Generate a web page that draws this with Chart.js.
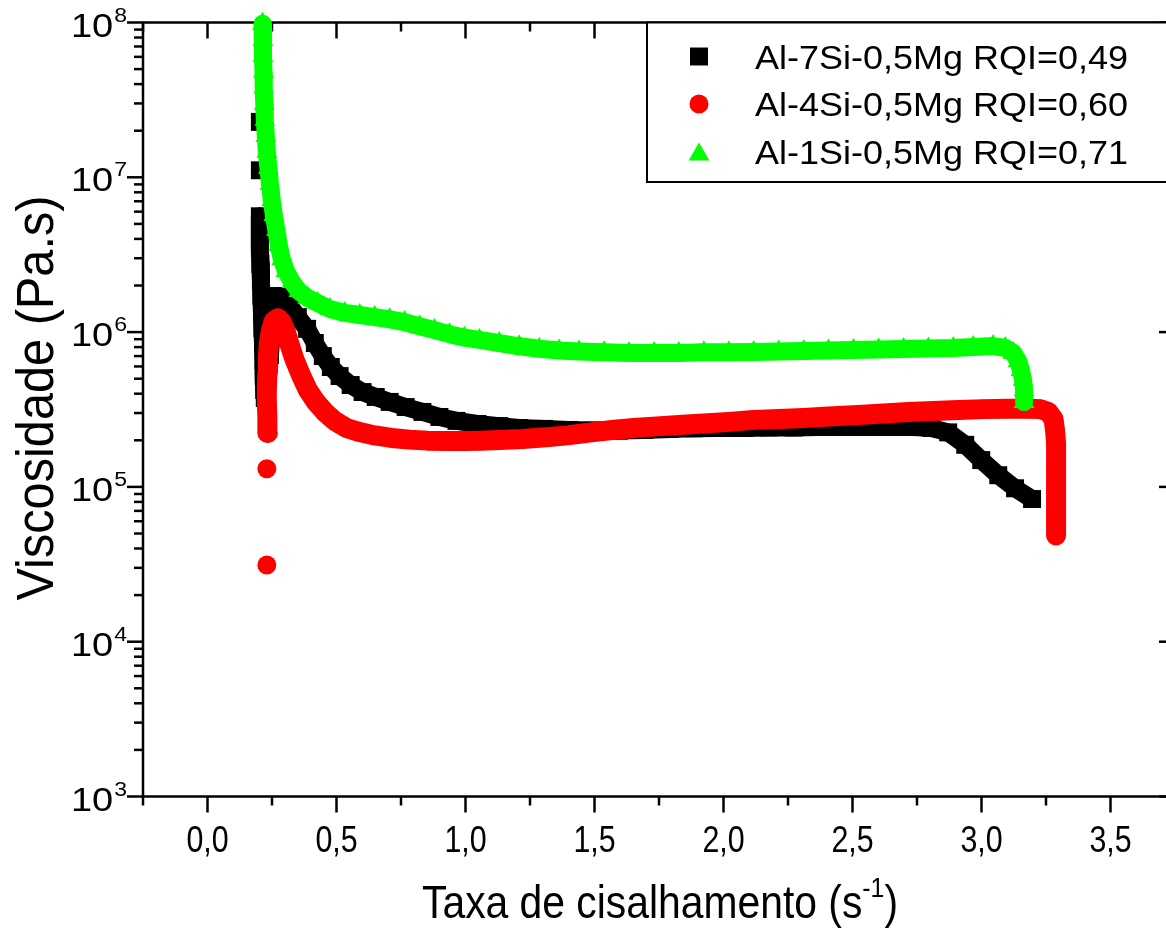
<!DOCTYPE html>
<html>
<head>
<meta charset="utf-8">
<title>Viscosidade x Taxa de cisalhamento</title>
<script src="https://cdn.jsdelivr.net/npm/chart.js@4.4.1/dist/chart.umd.min.js"></script>
<style>
    html, body { margin: 0; padding: 0; background: #fff; overflow: hidden; }
    #wrap { width: 1190px; height: 930px; }
</style>
</head>
<body>
<div id="wrap"><canvas id="chart" width="1190" height="930"></canvas></div>
<script>
// Series names (legend)
const seriesLabels = ['Al-7Si-0,5Mg RQI=0,49', 'Al-4Si-0,5Mg RQI=0,60', 'Al-1Si-0,5Mg RQI=0,71'];

// Al-7Si-0,5Mg (black squares)
const blackX = [0.203, 0.203, 0.203, 0.203, 0.203, 0.205, 0.207, 0.209, 0.211, 0.213,
    0.215, 0.217, 0.218, 0.220, 0.222, 0.234, 0.242, 0.249, 0.257, 0.265,
    0.273, 0.296, 0.319, 0.350, 0.386, 0.416, 0.447, 0.478, 0.512, 0.555,
    0.601, 0.652, 0.706, 0.768, 0.833, 0.899, 0.965, 1.046, 1.131, 1.208,
    1.305, 1.402, 1.498, 1.595, 1.692, 1.789, 1.885, 1.982, 2.079, 2.175,
    2.272, 2.369, 2.466, 2.562, 2.659, 2.736, 2.806, 2.871, 2.937, 2.999,
    3.065, 3.130, 3.196];
const blackY = [2.28e7, 1.11e7, 5.6e6, 4.43e6, 3.49e6, 2.75e6, 2.17e6, 1.71e6, 1.35e6, 1.06e6,
    8.4e5, 6.6e5, 5.2e5, 4.23e5, 3.75e5, 5.05e5, 7.1e5, 9.9e5, 1.33e6, 1.59e6,
    1.71e6, 1.64e6, 1.47e6, 1.25e6, 1.05e6, 8.5e5, 7.0e5, 5.95e5, 5.2e5, 4.55e5,
    4.1e5, 3.81e5, 3.54e5, 3.28e5, 3.05e5, 2.83e5, 2.67e5, 2.55e5, 2.47e5, 2.40e5,
    2.37e5, 2.33e5, 2.31e5, 2.31e5, 2.33e5, 2.37e5, 2.39e5, 2.40e5, 2.40e5, 2.42e5,
    2.42e5, 2.44e5, 2.44e5, 2.44e5, 2.44e5, 2.44e5, 2.40e5, 2.25e5, 1.87e5, 1.49e5,
    1.19e5, 9.8e4, 8.35e4];

// Al-4Si-0,5Mg (red circles)
const redX = [0.230, 0.230, 0.234, 0.232, 0.230, 0.230, 0.232, 0.234, 0.238, 0.246,
    0.257, 0.273, 0.288, 0.304, 0.319, 0.338, 0.362, 0.389, 0.420, 0.454,
    0.493, 0.539, 0.590, 0.648, 0.713, 0.783, 0.853, 0.922, 0.992, 1.061,
    1.131, 1.220, 1.313, 1.402, 1.487, 1.568, 1.653, 1.742, 1.827, 1.924,
    2.021, 2.117, 2.214, 2.311, 2.407, 2.523, 2.620, 2.717, 2.813, 2.910,
    3.007, 3.104, 3.182, 3.228, 3.259, 3.279, 3.285, 3.289, 3.289, 3.289,
    3.289, 3.289, 3.289, 3.289, 3.289];
const redY = [3.13e4, 1.31e5, 2.23e5, 2.79e5, 3.48e5, 4.35e5, 5.44e5, 6.8e5, 8.5e5, 1.03e6,
    1.18e6, 1.23e6, 1.16e6, 1.0e6, 8.25e5, 6.6e5, 5.28e5, 4.23e5, 3.54e5, 3.05e5,
    2.67e5, 2.40e5, 2.26e5, 2.15e5, 2.07e5, 2.02e5, 1.99e5, 1.98e5, 1.98e5, 1.99e5,
    2.01e5, 2.04e5, 2.09e5, 2.16e5, 2.25e5, 2.33e5, 2.40e5, 2.46e5, 2.51e5, 2.57e5,
    2.63e5, 2.71e5, 2.75e5, 2.79e5, 2.85e5, 2.91e5, 2.98e5, 3.05e5, 3.09e5, 3.14e5,
    3.18e5, 3.2e5, 3.2e5, 3.18e5, 3.05e5, 2.75e5, 2.33e5, 1.92e5, 1.56e5, 1.27e5,
    1.03e5, 8.35e4, 6.78e4, 5.59e4, 4.85e4];

// Al-1Si-0,5Mg (green triangles)
const greenX = [0.213, 0.215, 0.215, 0.217, 0.218, 0.220, 0.222, 0.226, 0.230, 0.236,
    0.242, 0.249, 0.257, 0.267, 0.276, 0.288, 0.304, 0.327, 0.354, 0.389,
    0.427, 0.474, 0.532, 0.590, 0.648, 0.706, 0.764, 0.822, 0.880, 0.938,
    0.996, 1.054, 1.131, 1.208, 1.286, 1.363, 1.440, 1.537, 1.634, 1.731,
    1.827, 1.924, 2.021, 2.117, 2.214, 2.311, 2.407, 2.504, 2.601, 2.698,
    2.794, 2.891, 2.968, 3.045, 3.092, 3.123, 3.142, 3.153, 3.161, 3.165,
    3.165];
const greenY = [9.8e7, 7.7e7, 6.1e7, 4.8e7, 3.8e7, 2.98e7, 2.35e7, 1.85e7, 1.46e7, 1.15e7,
    9.05e6, 7.14e6, 5.7e6, 4.57e6, 3.65e6, 2.97e6, 2.48e6, 2.11e6, 1.84e6, 1.66e6,
    1.54e6, 1.41e6, 1.33e6, 1.29e6, 1.25e6, 1.21e6, 1.16e6, 1.09e6, 1.03e6, 9.7e5,
    9.2e5, 8.9e5, 8.5e5, 8.1e5, 7.8e5, 7.6e5, 7.5e5, 7.4e5, 7.33e5, 7.33e5,
    7.33e5, 7.4e5, 7.4e5, 7.44e5, 7.5e5, 7.55e5, 7.6e5, 7.66e5, 7.72e5, 7.78e5,
    7.84e5, 7.89e5, 8.0e5, 8.13e5, 7.9e5, 7.33e5, 6.51e5, 5.69e5, 4.9e5, 4.21e5,
    3.53e5];

// Axis ticks
const xTicks = [0, 0.5, 1, 1.5, 2, 2.5, 3, 3.5];
const xMinorTicks = [-0.25, 0.25, 0.75, 1.25, 1.75, 2.25, 2.75, 3.25, 3.75];
const yTicks = [1e3, 1e4, 1e5, 1e6, 1e7, 1e8];
const yMinorFactors = [2, 3, 4, 5, 6, 7, 8, 9];

const FONT = '"Liberation Sans", Arial, sans-serif';

function toPoints(xs, ys) {
    return xs.map((x, i) => ({ x: x, y: ys[i] }));
}

// don't join points that sit far apart (isolated markers)
function gapColor(color) {
    return c => Math.hypot(c.p1.x - c.p0.x, c.p1.y - c.p0.y) > 30 ? 'rgba(0,0,0,0)' : color;
}

function textW(ctx, text, size) {
    ctx.save();
    ctx.font = size + 'px ' + FONT;
    const w = ctx.measureText(text).width;
    ctx.restore();
    return w;
}

// text with horizontal stretch (the original uses condensed / widened faces)
function drawText(ctx, text, x, y, size, sx, align) {
    ctx.save();
    ctx.font = size + 'px ' + FONT;
    const w = ctx.measureText(text).width * sx;
    const x0 = align === 'center' ? x - w / 2 : (align === 'right' ? x - w : x);
    ctx.translate(x0, y);
    ctx.scale(sx, 1);
    ctx.textAlign = 'left';
    ctx.textBaseline = 'alphabetic';
    ctx.fillStyle = '#000';
    ctx.fillText(text, 0, 0);
    ctx.restore();
    return w;
}

function line(ctx, x1, y1, x2, y2) {
    ctx.beginPath();
    ctx.moveTo(x1, y1);
    ctx.lineTo(x2, y2);
    ctx.stroke();
}

// Frame + tick marks, under the data
const framePlugin = {
    id: 'frame',
    beforeDatasetsDraw(chart) {
        const { ctx, chartArea: a, scales: { x, y } } = chart;
        ctx.save();
        ctx.strokeStyle = '#000';
        ctx.lineWidth = 2.5;
        ctx.lineCap = 'butt';
        ctx.strokeRect(a.left, a.top, a.right - a.left, a.bottom - a.top);

        xTicks.forEach(v => {
            const px = x.getPixelForValue(v);
            line(ctx, px, a.bottom, px, a.bottom + 16);
            line(ctx, px, a.top, px, a.top + 16);
        });
        xMinorTicks.forEach(v => {
            const px = x.getPixelForValue(v);
            line(ctx, px, a.bottom, px, a.bottom + 9);
            line(ctx, px, a.top, px, a.top + 9);
        });
        yTicks.forEach(v => {
            const py = y.getPixelForValue(v);
            line(ctx, a.left - 16, py, a.left, py);
            line(ctx, a.right - 16, py, a.right, py);
        });
        yTicks.slice(0, -1).forEach(d => {
            yMinorFactors.forEach(m => {
                const py = y.getPixelForValue(d * m);
                line(ctx, a.left - 9, py, a.left, py);
            });
        });
        ctx.restore();
    }
};

// Tick labels and axis titles
const labelPlugin = {
    id: 'labels',
    afterDatasetsDraw(chart) {
        const { ctx, chartArea: a, scales: { x, y } } = chart;

        xTicks.forEach(v => {
            drawText(ctx, v.toFixed(1).replace('.', ','), x.getPixelForValue(v), a.bottom + 55, 37, 0.82, 'center');
        });

        yTicks.forEach(v => {
            const py = y.getPixelForValue(v);
            const exp = String(Math.round(Math.log10(v)));
            const wExp = textW(ctx, exp, 20) * 1.15;
            drawText(ctx, exp, 127, py - 1, 20, 1.15, 'right');
            drawText(ctx, '10', 127 - wExp - 1, py + 14, 33, 1.15, 'right');
        });

        // x title with superscript
        const main = 'Taxa de cisalhamento (s', sup = '-1', close = ')';
        const raw = textW(ctx, main, 46) + textW(ctx, sup, 28) + textW(ctx, close, 46);
        const sx = 476 / raw;
        let cx = 660 - raw * sx / 2;
        cx += drawText(ctx, main, cx, 918, 46, sx, 'left');
        cx += drawText(ctx, sup, cx, 897, 28, sx, 'left');
        drawText(ctx, close, cx, 918, 46, sx, 'left');

        // y title, rotated
        const yt = 'Viscosidade (Pa.s)';
        ctx.save();
        ctx.translate(53, 398);
        ctx.rotate(-Math.PI / 2);
        drawText(ctx, yt, 0, 0, 51, 405 / textW(ctx, yt, 51), 'center');
        ctx.restore();
    }
};

// Boxed legend at the top right, over the data
const legendPlugin = {
    id: 'boxLegend',
    afterDraw(chart) {
        const ctx = chart.ctx;
        ctx.save();
        ctx.fillStyle = '#fff';
        ctx.fillRect(647, 22.5, 545, 159.5);
        ctx.strokeStyle = '#000';
        ctx.lineWidth = 2;
        ctx.strokeRect(647, 22.5, 545, 159.5);
        const rowY = [56.5, 104, 151.5];
        const sx = 373 / textW(ctx, seriesLabels[0], 33);
        chart.data.datasets.forEach((ds, i) => {
            ctx.fillStyle = ds.pointBackgroundColor;
            Chart.helpers.drawPoint(ctx, {
                pointStyle: ds.pointStyle, radius: ds.pointRadius, rotation: 0, borderWidth: 0
            }, 699, rowY[i] + (ds.pointStyle === 'triangle' ? 3 : 0));
            drawText(ctx, ds.label, 755, rowY[i] + 12, 33, sx, 'left');
        });
        ctx.restore();
    }
};

function series(label, xs, ys, color, style, radius, width, order) {
    return {
        label: label,
        data: toPoints(xs, ys),
        showLine: true,
        borderColor: color,
        backgroundColor: color,
        borderWidth: width,
        borderJoinStyle: 'round',
        borderCapStyle: 'round',
        tension: 0,
        pointStyle: style,
        pointRadius: radius,
        pointBackgroundColor: color,
        pointBorderColor: color,
        pointBorderWidth: 0,
        order: order,
        clip: false,
        segment: { borderColor: gapColor(color) }
    };
}

new Chart(document.getElementById('chart'), {
    type: 'scatter',
    data: {
        datasets: [
            series(seriesLabels[0], blackX, blackY, '#000000', 'rect', 12.7, 18, 2),
            series(seriesLabels[1], redX, redY, '#ff0000', 'circle', 9.5, 20, 1),
            series(seriesLabels[2], greenX, greenY, '#00ff00', 'triangle', 12, 18, 0)
        ]
    },
    options: {
        responsive: false,
        animation: false,
        devicePixelRatio: 1,
        events: [],
        layout: { padding: { top: 22.5, right: 15, left: 0, bottom: 0 } },
        plugins: { legend: { display: false }, tooltip: { enabled: false } },
        scales: {
            x: {
                type: 'linear', min: -0.25, max: 3.75,
                grid: { display: false, drawTicks: false },
                border: { display: false },
                ticks: { display: false },
                afterBuildTicks: s => { s.ticks = xTicks.map(v => ({ value: v })); },
                afterFit: s => { s.height = 133.5; }
            },
            y: {
                type: 'logarithmic', min: 1e3, max: 1e8,
                grid: { display: false, drawTicks: false },
                border: { display: false },
                ticks: { display: false },
                afterBuildTicks: s => { s.ticks = yTicks.map(v => ({ value: v })); },
                afterFit: s => { s.width = 143; }
            }
        }
    },
    plugins: [framePlugin, labelPlugin, legendPlugin]
});
</script>
</body>
</html>
